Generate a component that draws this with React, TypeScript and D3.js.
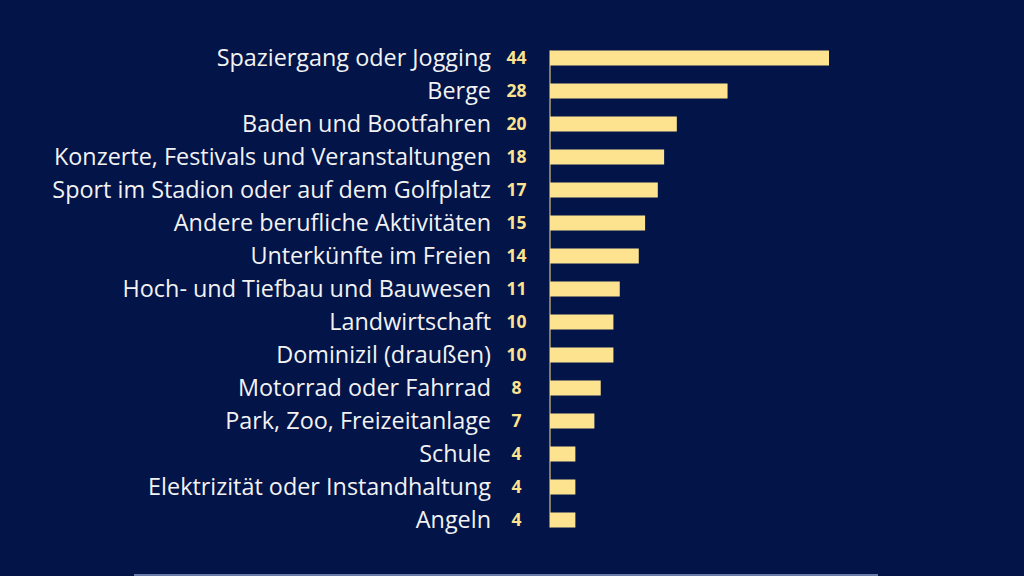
import React from 'react';
import * as d3 from 'd3';

const categories = [
  'Spaziergang oder Jogging',
  'Berge',
  'Baden und Bootfahren',
  'Konzerte, Festivals und Veranstaltungen',
  'Sport im Stadion oder auf dem Golfplatz',
  'Andere berufliche Aktivitäten',
  'Unterkünfte im Freien',
  'Hoch- und Tiefbau und Bauwesen',
  'Landwirtschaft',
  'Dominizil (draußen)',
  'Motorrad oder Fahrrad',
  'Park, Zoo, Freizeitanlage',
  'Schule',
  'Elektrizität oder Instandhaltung',
  'Angeln',
];
const values = [44, 28, 20, 18, 17, 15, 14, 11, 10, 10, 8, 7, 4, 4, 4];

const W = 1024;
const H = 576;

const App: React.FC = () => {
  const x0 = 550;
  const x = d3.scaleLinear().domain([0, 44]).range([x0, 829]);
  const y = d3.scaleBand<string>()
    .domain(categories)
    .range([41.5, 536.5])
    .paddingInner(0.545)
    .paddingOuter(0.2725);
  const bw = y.bandwidth();
  const first = y(categories[0]) || 0;
  const last = (y(categories[categories.length - 1]) || 0) + bw;

  return (
    <svg width={W} height={H} style={{ position: 'absolute', left: 0, top: 0, display: 'block' }}>
      <rect width={W} height={H} fill="#021448" />
      {categories.map((c, i) => {
        const yc = (y(c) || 0) + bw / 2;
        return (
          <g key={c}>
            <rect
              x={x(0)}
              y={y(c)}
              width={x(values[i]) - x(0)}
              height={bw}
              fill="#fde38f"
            />
            <text
              x={491}
              y={yc}
              dy="0.36em"
              textAnchor="end"
              fill="#f2f2f2"
              fontFamily="'Open Sans', sans-serif"
              fontSize={23.4}
            >
              {c}
            </text>
            <text
              x={516.5}
              y={yc}
              dy="0.36em"
              textAnchor="middle"
              fill="#fde38f"
              fontFamily="'Open Sans', sans-serif"
              fontWeight="bold"
              fontSize={17.5}
            >
              {values[i]}
            </text>
          </g>
        );
      })}
      <line x1={x0} x2={x0} y1={first} y2={last} stroke="#fde38f" strokeWidth={1} />
      <line x1={134} x2={878} y1={575} y2={575} stroke="#8b9cc9" strokeWidth={1.5} />
    </svg>
  );
};

export default App;
